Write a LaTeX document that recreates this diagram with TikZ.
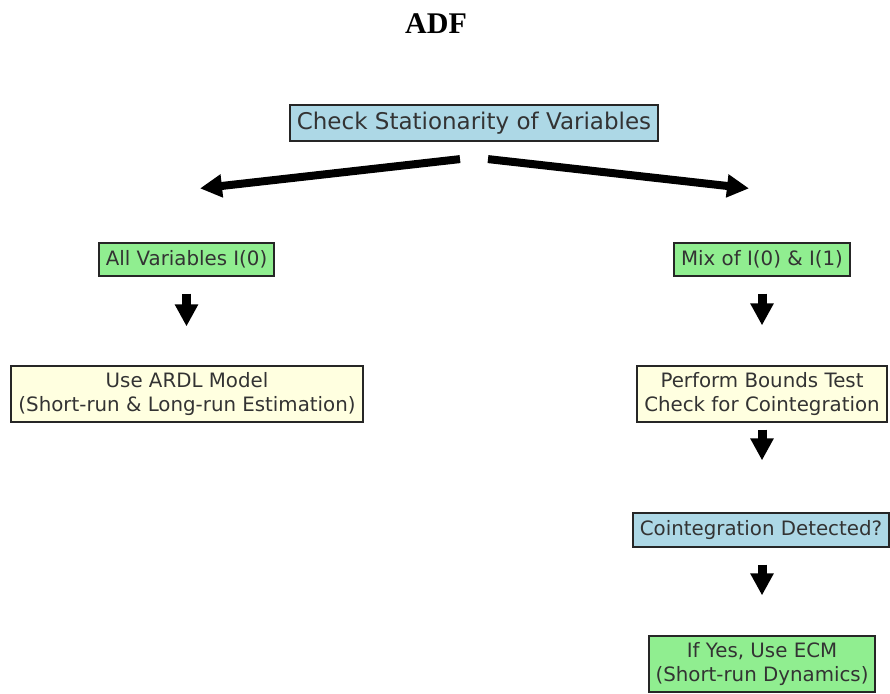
\documentclass[tikz,border=0pt]{standalone}
\usepackage{fontspec}
\setmainfont{DejaVu Sans}
\newfontfamily\titlefont{Liberation Serif}
\usetikzlibrary{arrows.meta,calc}
\definecolor{boxblue}{HTML}{ADD8E6}
\definecolor{boxgreen}{HTML}{90EE90}
\definecolor{boxyellow}{HTML}{FFFFE0}
\definecolor{txt}{HTML}{333333}
\tikzset{
  box/.style={draw=black!85, line width=1.2pt, inner sep=0pt, align=center, text=txt,
    font=\fontsize{19.8}{23.4}\selectfont},
  fatarrow/.style={line width=9pt, -{Triangle[length=22pt,width=22pt]}},
}
\begin{document}
\begin{tikzpicture}[x=1pt,y=-1pt]
\useasboundingbox (0,0) rectangle (890,693);
\node[font=\titlefont\bfseries\fontsize{30}{34}\selectfont] (title) at (436,24) {ADF};
\node[box, fill=boxblue, minimum width=368pt, minimum height=36pt, font=\fontsize{23}{27}\selectfont] (top) at (474,123) {Check Stationarity of Variables};
\node[box, fill=boxgreen, minimum width=175pt, minimum height=33pt] (l1) at (186.5,259.5) {All Variables I(0)};
\node[box, fill=boxyellow, minimum width=352pt, minimum height=56pt] (l2) at (187,394) {Use ARDL Model\\(Short-run \& Long-run Estimation)};
\node[box, fill=boxgreen, minimum width=176pt, minimum height=33pt] (r1) at (762,259.5) {Mix of I(0) \& I(1)};
\node[box, fill=boxyellow, minimum width=250pt, minimum height=56pt] (r2) at (762,394) {Perform Bounds Test\\Check for Cointegration};
\node[box, fill=boxblue, minimum width=256pt, minimum height=34pt] (r3) at (761,530) {Cointegration Detected?};
\node[box, fill=boxgreen, minimum width=226pt, minimum height=56pt] (r4) at (762,664) {If Yes, Use ECM\\(Short-run Dynamics)};
\draw[fatarrow, line width=8pt] ($(top.south)+(-14,17.5)$) -- ($(l1.north)+(13.5,-54)$);
\draw[fatarrow, line width=8pt] ($(top.south)+(14,17.5)$) -- ($(r1.north)+(-13,-54)$);
\draw[fatarrow, shorten <=17pt, shorten >=39pt] (l1.south) -- (l1.south |- l2.north);
\draw[fatarrow, shorten <=17pt, shorten >=40pt] (r1.south) -- (r2.north);
\draw[fatarrow, shorten <=7pt, shorten >=52pt] (r2.south) -- (r2.south |- r3.north);
\draw[fatarrow, shorten <=17pt, shorten >=40pt] (r3.south -| r4.north) -- (r4.north);
\end{tikzpicture}
\end{document}
